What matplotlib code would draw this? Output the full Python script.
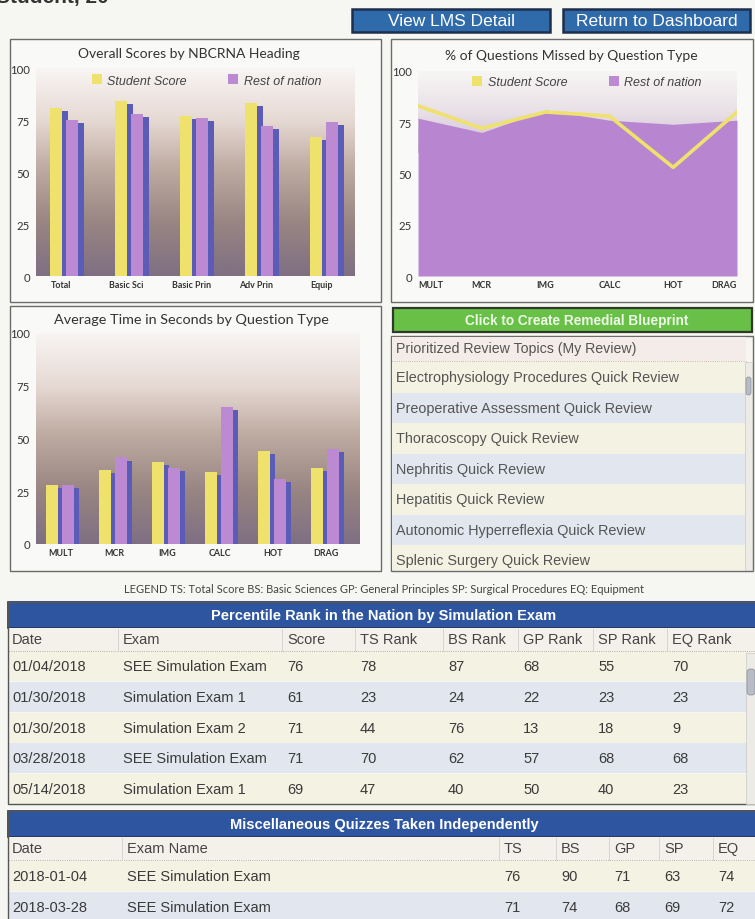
import numpy as np
import matplotlib
matplotlib.use("Agg")
import matplotlib.pyplot as plt
from matplotlib import font_manager
from matplotlib.colors import LinearSegmentedColormap
from matplotlib.patches import Patch, Rectangle, FancyBboxPatch

# ---- data -------------------------------------------------------------
heading_cats = ["Total", "Basic Sci", "Basic Prin", "Adv Prin", "Equip"]
heading_student = [81, 84, 77, 83, 67]
heading_nation = [75, 78, 76, 72, 74]

qtype_cats = ["MULT", "MCR", "IMG", "CALC", "HOT", "DRAG"]
missed_student = [83, 72, 80, 78, 53, 80]
missed_nation = [77, 70, 81, 76, 74, 76]
time_student = [28, 35, 39, 34, 44, 36]
time_nation = [28, 41, 36, 65, 31, 45]

review_header = "Prioritized Review Topics (My Review)"
review_topics = [
    "Electrophysiology Procedures Quick Review",
    "Preoperative Assessment Quick Review",
    "Thoracoscopy Quick Review",
    "Nephritis Quick Review",
    "Hepatitis Quick Review",
    "Autonomic Hyperreflexia Quick Review",
    "Splenic Surgery Quick Review",
]

rank_columns = ["Date", "Exam", "Score", "TS Rank", "BS Rank", "GP Rank", "SP Rank", "EQ Rank"]
rank_rows = [
    ["01/04/2018", "SEE Simulation Exam", 76, 78, 87, 68, 55, 70],
    ["01/30/2018", "Simulation Exam 1", 61, 23, 24, 22, 23, 23],
    ["01/30/2018", "Simulation Exam 2", 71, 44, 76, 13, 18, 9],
    ["03/28/2018", "SEE Simulation Exam", 71, 70, 62, 57, 68, 68],
    ["05/14/2018", "Simulation Exam 1", 69, 47, 40, 50, 40, 23],
]

quiz_columns = ["Date", "Exam Name", "TS", "BS", "GP", "SP", "EQ"]
quiz_rows = [
    ["2018-01-04", "SEE Simulation Exam", 76, 90, 71, 63, 74],
    ["2018-03-28", "SEE Simulation Exam", 71, 74, 68, 69, 72],
]

legend_note = ("LEGEND TS: Total Score BS: Basic Sciences GP: General Principles "
               "SP: Surgical Procedures EQ: Equipment")

# ---- style ------------------------------------------------------------
W, H = 755, 920
PAGE = "#f6f6f2"
YELLOW = "#eee26c"
PURPLE = "#bb8ad3"
SHADOW = "#5a5cb8"
AREA = "#b886d0"
BLUE_BTN = "#2f6aab"
BLUE_HDR = "#2e56a0"
GREEN = "#68c046"
CREAM = "#f4f2e3"
BLUEROW = "#e2e6ee"
TXT = "#3a3a3a"

names = {f.name for f in font_manager.fontManager.ttflist}
NARROW = "Liberation Sans Narrow" if "Liberation Sans Narrow" in names else "Liberation Sans"
CHART_FONT = "Lato"

bg_cmap = LinearSegmentedColormap.from_list(
    "bg", ["#f8f5f4", "#e6d9d3", "#bba89f", "#988582", "#7f6f82"])
top_cmap = LinearSegmentedColormap.from_list("top", ["#f8f6f5", "#e8e0e6", "#cdb9d6"])

fig = plt.figure(figsize=(W / 100, H / 100), dpi=100)
page = fig.add_axes([0, 0, 1, 1])
page.set_xlim(0, W)
page.set_ylim(H, 0)
page.axis("off")
page.add_patch(Rectangle((0, 0), W, H, color=PAGE, zorder=0))


def box(x0, y0, x1, y1, fc, ec="#6b6b6b", lw=1.0, z=1):
    page.add_patch(Rectangle((x0, y0), x1 - x0, y1 - y0, facecolor=fc,
                             edgecolor=ec, lw=lw, zorder=z))


def chart_axes(x0, y0, x1, y1):
    ax = fig.add_axes([x0 / W, 1 - y1 / H, (x1 - x0) / W, (y1 - y0) / H])
    for s in ax.spines.values():
        s.set_visible(False)
    ax.tick_params(length=0, pad=3)
    return ax


def style_ticks(ax, cats, x):
    ax.set_xticks(x)
    ax.set_xticklabels(cats, fontsize=6.4, fontweight="bold", family=CHART_FONT, color="#333")
    ax.set_yticks([0, 25, 50, 75, 100])
    ax.set_yticklabels(["0", "25", "50", "75", "100"], fontsize=8.2,
                       family=CHART_FONT, color="#333")
    ax.tick_params(axis="y", pad=4.5)


def add_legend(ax, handles, xa, ya):
    ax.legend(handles=handles, loc="center", bbox_to_anchor=(xa, ya), ncol=2,
              frameon=False, handlelength=0.8, handleheight=0.8,
              handletextpad=0.45, columnspacing=3.3,
              prop={"family": "Liberation Sans", "style": "italic", "size": 9})
    for t in ax.get_legend().get_texts():
        t.set_color("#444")


def bar_chart(ax, cats, student, nation, off_s, off_n, width, xlim):
    x = np.arange(len(cats))
    grad = np.linspace(0, 1, 256).reshape(-1, 1)
    ax.imshow(grad, cmap=bg_cmap, aspect="auto", extent=(xlim[0], xlim[1], 0, 100),
              zorder=0)
    ax.bar(x + off_s + width * 0.45, np.array(student) - 1.5, width, color=SHADOW, zorder=2)
    ax.bar(x + off_s, student, width, color=YELLOW, zorder=3)
    ax.bar(x + off_n + width * 0.45, np.array(nation) - 1.5, width, color=SHADOW, zorder=2)
    ax.bar(x + off_n, nation, width, color=PURPLE, zorder=3)
    ax.set_xlim(*xlim)
    ax.set_ylim(0, 100)
    style_ticks(ax, cats, x)


# ---- header -----------------------------------------------------------
page.text(-4, 3, "Student, 20", fontsize=15, fontweight="bold", color="#333",
          family="Liberation Sans", va="baseline", ha="left", zorder=5)
for (x0, x1, label) in [(352, 550, "View LMS Detail"), (563, 750, "Return to Dashboard")]:
    box(x0, 10, x1, 33, BLUE_BTN, ec="#1d2f4c", lw=1.8, z=2)
    page.text((x0 + x1) / 2, 22, label, color="white", fontsize=12.5, family=NARROW,
              ha="center", va="center", zorder=3)

# ---- panel boxes ------------------------------------------------------
box(10, 40, 381, 303, "#f9f9f7")
box(391, 40, 753, 303, "#f9f9f7")
box(10, 307, 381, 572, "#f9f9f7")

page.text(189, 54, "Overall Scores by NBCRNA Heading", fontsize=10, family=CHART_FONT,
          color="#333", ha="center", va="center", zorder=3)
page.text(571, 56, "% of Questions Missed by Question Type", fontsize=10,
          family=CHART_FONT, color="#333", ha="center", va="center", zorder=3)
page.text(191, 320, "Average Time in Seconds by Question Type", fontsize=10.4,
          family=CHART_FONT, color="#333", ha="center", va="center", zorder=3)

legend_handles = [Patch(facecolor=YELLOW, edgecolor="none", label="Student Score"),
                  Patch(facecolor=PURPLE, edgecolor="none", label="Rest of nation")]

# chart 1: overall scores
ax1 = chart_axes(36, 69, 355, 277)
bar_chart(ax1, heading_cats, heading_student, heading_nation,
          -0.075, 0.17, 0.185, (-0.385, 4.52))
add_legend(ax1, legend_handles, 0.535, 0.94)

# chart 2: % missed
ax2 = chart_axes(418, 72, 737, 277)
xq = np.arange(len(qtype_cats))
grad = np.linspace(0, 1, 256).reshape(-1, 1)
ax2.imshow(grad, cmap=top_cmap, aspect="auto", extent=(0, 5, 60, 100), zorder=0)
ax2.fill_between(xq, missed_nation, 0, color=AREA, lw=0, zorder=1)
ax2.plot(xq, missed_student, color=YELLOW, lw=2.6, solid_joinstyle="round", zorder=3)
ax2.set_xlim(0, 5)
ax2.set_ylim(0, 100)
style_ticks(ax2, qtype_cats, xq)
xl = ax2.get_xticklabels()
xl[0].set_ha("left")
xl[-1].set_ha("right")
add_legend(ax2, legend_handles, 0.53, 0.946)

# chart 3: average time
ax3 = chart_axes(36, 334, 360, 545)
bar_chart(ax3, qtype_cats, time_student, time_nation,
          -0.17, 0.13, 0.22, (-0.47, 5.64))

# ---- remedial blueprint + review list ----------------------------------
box(393, 309, 752, 333, GREEN, ec="#2f3a2a", lw=1.6, z=2)
page.text(577, 321, "Click to Create Remedial Blueprint", color="#eef8e8", fontsize=9.8,
          fontweight="bold", family=NARROW, ha="center", va="center", zorder=3)

box(391, 337, 753, 572, "#f7f5ee")
box(392, 338, 746, 362, "#f3ece8", ec="none", z=2)
page.plot([392, 746], [362, 362], color="#b99", lw=0.6, ls=":", zorder=3)
page.text(396, 349, review_header, fontsize=10.2, color="#555", family="Liberation Sans",
          va="center", zorder=4)
row_h = 30.5
for i, topic in enumerate(review_topics):
    y0 = 363 + i * row_h
    y1 = min(y0 + row_h, 571)
    box(392, y0, 745, y1, CREAM if i % 2 == 0 else BLUEROW, ec="none", z=2)
    page.text(396, y0 + row_h / 2, topic, fontsize=10.4, color="#555",
              family="Liberation Sans", va="center", zorder=4)
box(745, 363, 752, 571, "#ecebe6", ec="#c8c8c8", lw=0.5, z=3)
page.add_patch(FancyBboxPatch((746, 378), 5, 18, boxstyle="round,pad=0,rounding_size=2.5",
                              facecolor="#b8bcc6", edgecolor="#8a8e9a", lw=0.5, zorder=4))

page.text(384, 590, legend_note, fontsize=8, family=CHART_FONT, color="#444",
          ha="center", va="center", zorder=3)


# ---- tables -----------------------------------------------------------
def table(y_top, title, columns, col_x, rows, row_y, row_h, first_y):
    box(8, y_top, W + 2, y_top + 26, BLUE_HDR, ec="#1f3466", lw=1.2, z=2)
    page.text(384, y_top + 13, title, color="white", fontsize=10.5, fontweight="bold",
              family=NARROW, ha="center", va="center", zorder=3)
    head_y = y_top + 37
    box(9, y_top + 26, W + 2, first_y, "#f3f1ea", ec="none", z=2)
    page.plot([9, W], [first_y, first_y], color="#999", lw=0.6, ls=":", zorder=3)
    for cx, name in zip(col_x, columns):
        page.text(cx, head_y, name, fontsize=10.5, color="#444", family=NARROW,
                  va="center", zorder=4)
        if cx > 20:
            page.plot([cx - 5, cx - 5], [y_top + 27, first_y], color="#d2d0cc",
                      lw=0.6, zorder=3)
    for i, (r, ry) in enumerate(zip(rows, row_y)):
        box(9, ry - row_h / 2, W + 2, ry + row_h / 2, CREAM if i % 2 == 0 else BLUEROW,
            ec="none", z=2)
        for cx, val in zip(col_x, r):
            page.text(cx, ry, str(val), fontsize=10.5, color=TXT, family=NARROW,
                      va="center", zorder=4)


table(603, "Percentile Rank in the Nation by Simulation Exam", rank_columns,
      [12, 123, 287, 360, 448, 523, 598, 672], rank_rows,
      [667, 698, 729, 759, 790], 30.7, 652)
page.add_patch(Rectangle((8, 603), W - 6, 202, facecolor="none", edgecolor="#555",
                         lw=1.0, zorder=5))
box(746, 654, 756, 805, "#ecebe6", ec="#c8c8c8", lw=0.5, z=5)
page.add_patch(FancyBboxPatch((747, 670), 8, 26, boxstyle="round,pad=0,rounding_size=3",
                              facecolor="#b8bcc6", edgecolor="#8a8e9a", lw=0.5, zorder=6))

table(812, "Miscellaneous Quizzes Taken Independently", quiz_columns,
      [12, 127, 504, 561, 614, 664, 718], quiz_rows, [877, 908], 30.7, 861)
page.add_patch(Rectangle((8, 812), W - 6, 120, facecolor="none", edgecolor="#555",
                         lw=1.0, zorder=5))

fig.savefig("out.png", dpi=100, facecolor=PAGE)
